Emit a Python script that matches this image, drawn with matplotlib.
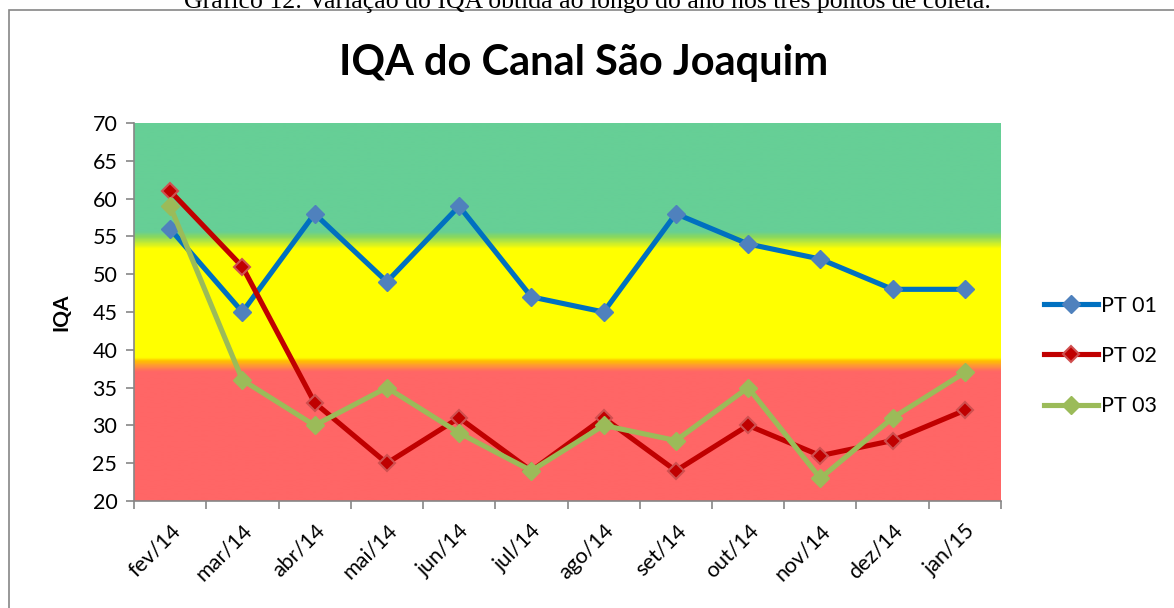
import matplotlib.pyplot as plt
import numpy as np
from matplotlib.colors import LinearSegmentedColormap
from matplotlib.patches import Rectangle

months = ["fev/14", "mar/14", "abr/14", "mai/14", "jun/14", "jul/14",
          "ago/14", "set/14", "out/14", "nov/14", "dez/14", "jan/15"]
pt01 = [56, 45, 58, 49, 59, 47, 45, 58, 54, 52, 48, 48]
pt02 = [61, 51, 33, 25, 31, 24, 31, 24, 30, 26, 28, 32]
pt03 = [59, 36, 30, 35, 29, 24, 30, 28, 35, 23, 31, 37]

yticks = list(range(20, 75, 5))

# background bands (value, colour)
band_stops = [(20, "#FF6666"), (37.1, "#FF6666"), (37.9, "#FF9933"),
              (38.5, "#FFC000"), (39.0, "#FFFF00"), (53.4, "#FFFF00"),
              (54.4, "#B4E640"), (55.0, "#88D860"), (55.7, "#66CF96"),
              (70, "#66CF96")]

plt.rcParams['font.family'] = ['Lato', 'DejaVu Sans']

fig = plt.figure(figsize=(11.74, 6.08), dpi=100)
ax = fig.add_axes([134 / 1174, 1 - 501 / 608, 867 / 1174, 378 / 608])

x = np.arange(len(months))

lo, hi = band_stops[0][0], band_stops[-1][0]
cmap = LinearSegmentedColormap.from_list(
    "bands", [((v - lo) / (hi - lo), c) for v, c in band_stops], N=512)
grad = np.linspace(lo, hi, 600).reshape(-1, 1)
ax.imshow(grad, cmap=cmap, aspect="auto", origin="lower",
          extent=[-0.5, len(months) - 0.5, lo, hi], zorder=0,
          interpolation="bilinear")

ax.plot(x, pt01, color="#0070C0", lw=3.7, marker="D", ms=9.5,
        mfc="#4F81BD", mec="#4F81BD", label="PT 01", zorder=3)
ax.plot(x, pt02, color="#C00000", lw=3.7, marker="D", ms=8.5,
        mfc="#C00000", mec="#D05050", mew=1.5, label="PT 02", zorder=3)
ax.plot(x, pt03, color="#9BBB59", lw=3.7, marker="D", ms=9.5,
        mfc="#9BBB59", mec="#9BBB59", label="PT 03", zorder=4)

ax.set_xlim(-0.5, len(months) - 0.5)
ax.set_ylim(20, 70)
ax.set_yticks(yticks)
ax.set_xticks(x)
ax.set_xticklabels(months, rotation=45, ha="right", rotation_mode="anchor",
                   fontsize=15.5)
ax.set_xticks(np.arange(-0.5, len(months), 1), minor=True)
ax.tick_params(axis="x", which="major", length=0, pad=14)
ax.tick_params(axis="x", which="minor", length=6, width=1.2, color="#868686",
               direction="out")
ax.tick_params(axis="y", length=6, width=1.2, color="#868686",
               labelsize=15.5, pad=6)
for s in ["top", "right"]:
    ax.spines[s].set_visible(False)
for s in ["left", "bottom"]:
    ax.spines[s].set_color("#868686")
    ax.spines[s].set_linewidth(1.2)

ax.set_ylabel("IQA", fontsize=15, fontweight="bold", labelpad=15)

fig.text(584 / 1174, 1 - 63 / 608, "IQA do Canal São Joaquim", ha="center",
         va="center", fontsize=30, fontweight="bold")

ax.legend(loc="center left", bbox_to_anchor=(1.0, (501 - 356) / 378),
          frameon=False, fontsize=15.5, handlelength=2.5, labelspacing=1.4,
          handletextpad=0.15, borderaxespad=1.6)

fig.text(0.5, 1 - 8 / 608,
         "Gráfico 12: Variação do IQA obtida ao longo do ano nos três pontos de coleta.",
         ha="center", va="baseline", fontsize=18.5,
         family=["Liberation Serif", "DejaVu Serif"])

fig.patches.append(Rectangle((9 / 1174, -0.1), 1.2,
                             1.1 - 10 / 608, transform=fig.transFigure,
                             fill=False, edgecolor="#868686", lw=1.2))

fig.savefig("out.png", dpi=100)
